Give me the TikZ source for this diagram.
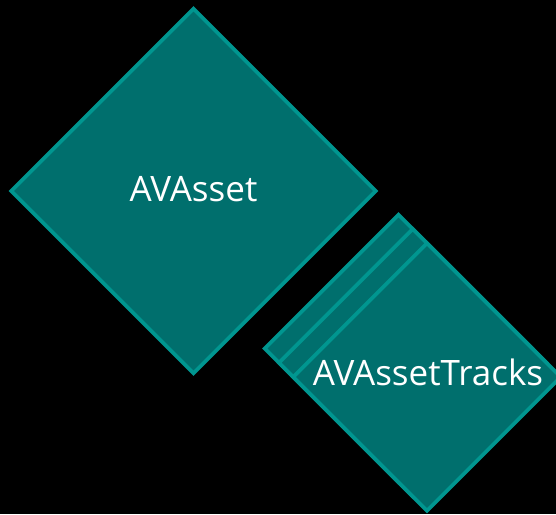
\documentclass[tikz,border=0pt]{standalone}
\usepackage{fontspec}
\setmainfont{Open Sans}
\usetikzlibrary{shapes.geometric}

\definecolor{tealfill}{RGB}{0,111,109}
\definecolor{tealline}{RGB}{0,150,144}

\tikzstyle{slab} = [diamond, aspect=1, fill=tealfill, draw=tealline, line width=3.6pt, inner sep=0pt]
\tikzstyle{assetbox} = [slab, minimum width=366pt, minimum height=366pt]
\tikzstyle{trackbox} = [slab, minimum width=269pt, minimum height=269pt]
\tikzstyle{boxtext} = [text=white, anchor=base, inner sep=0pt, font=\fontsize{35}{42}\selectfont]

\begin{document}
\begin{tikzpicture}[x=1pt, y=-1pt]
    \path[use as bounding box, fill=black] (0,0) rectangle (556,514);

    \node[assetbox] (asset) at (193.5,191) {};

    % stacked tracks, back to front
    \node[trackbox] (trackC) at (398.5,348.5) {};
    \node[trackbox] (trackB) at ([shift={(14.25,14.25)}]trackC.center) {};
    \node[trackbox] (trackA) at ([shift={(14.25,14.25)}]trackB.center) {};

    % labels
    \node[boxtext] (assetname) at ([shift={(0,10)}]asset.center) {AVAsset};
    \node[boxtext] (trackname) at ([shift={(1,8)}]trackA.center) {AVAssetTracks};
\end{tikzpicture}
\end{document}
